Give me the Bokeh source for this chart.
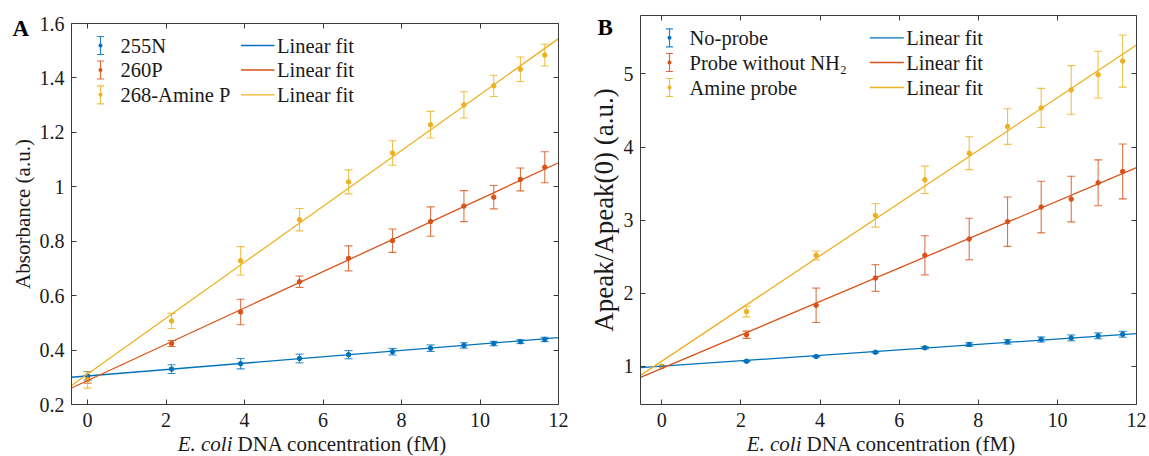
import numpy as np
from bokeh.plotting import figure
from bokeh.layouts import row
from bokeh.models import (Range1d, LinearAxis, FixedTicker, CustomJSTickFormatter, Label,
                          Whisker, TeeHead, BoxAnnotation, ColumnDataSource)
from bokeh.embed import file_html
from bokeh.resources import INLINE

# ---------------- data ----------------
conc = [0, 2.14, 3.9, 5.4, 6.65, 7.77, 8.74, 9.59, 10.35, 11.03, 11.65]

# Panel A : absorbance
abs_255N = [0.305, 0.330, 0.350, 0.369, 0.383, 0.394, 0.407, 0.417, 0.424, 0.431, 0.439]
err_255N = [0.016, 0.016, 0.019, 0.016, 0.015, 0.012, 0.012, 0.010, 0.008, 0.007, 0.008]
abs_260P = [0.292, 0.424, 0.540, 0.651, 0.737, 0.802, 0.872, 0.929, 0.962, 1.027, 1.072]
err_260P = [0.014, 0.011, 0.047, 0.021, 0.046, 0.043, 0.054, 0.057, 0.043, 0.042, 0.057]
abs_268 = [0.290, 0.507, 0.728, 0.879, 1.018, 1.124, 1.228, 1.301, 1.371, 1.432, 1.484]
err_268 = [0.030, 0.028, 0.052, 0.041, 0.044, 0.045, 0.049, 0.048, 0.039, 0.045, 0.040]
fit_slope_a = [0.0117, 0.0667, 0.1027]
fit_icpt_a = [0.305, 0.288, 0.312]
names_a = ["255N", "260P", "268-Amine P"]

# Panel B : Apeak / Apeak(0)
ratio_noprobe = [1.0, 1.072, 1.136, 1.195, 1.255, 1.300, 1.337, 1.369, 1.391, 1.419, 1.441]
err_noprobe = [0.0, 0.008, 0.006, 0.010, 0.015, 0.025, 0.030, 0.035, 0.040, 0.040, 0.040]
ratio_nonh2 = [1.0, 1.434, 1.837, 2.210, 2.520, 2.743, 2.980, 3.180, 3.289, 3.512, 3.667]
err_nonh2 = [0.0, 0.050, 0.235, 0.182, 0.268, 0.284, 0.337, 0.353, 0.312, 0.314, 0.375]
ratio_amine = [1.0, 1.751, 2.520, 3.066, 3.553, 3.917, 4.281, 4.536, 4.782, 4.991, 5.177]
err_amine = [0.0, 0.072, 0.060, 0.160, 0.187, 0.225, 0.243, 0.268, 0.332, 0.320, 0.357]
fit_slope_b = [0.0372, 0.2288, 0.3603]
fit_icpt_b = [1.004, 0.974, 1.073]
names_b = ["No-probe", "Probe without NH\u2082", "Amine probe"]
fit_label = "Linear fit"

x_ticks = [0, 2, 4, 6, 8, 10, 12]
y_ticks_a = [0.2, 0.4, 0.6, 0.8, 1, 1.2, 1.4, 1.6]
y_labels_a = ["0.2", "0.4", "0.6", "0.8", "1", "1.2", "1.4", "1.6"]
y_ticks_b = [1, 2, 3, 4, 5]
y_labels_b = ["1", "2", "3", "4", "5"]

# ---------------- styling ----------------
COLORS = ["#0072BD", "#D95319", "#EDB120"]
FONT = "Liberation Serif"
FRAME = "#3a3a3a"
TXT = "#1a1a1a"
H = 456


def make_panel(width, box, xlim, ylim):
    """box = (left, right, top, bottom) pixel edges of the axes box inside the figure."""
    left, right, top, bottom = box
    x_lo, x_hi = xlim
    y_lo, y_hi = ylim
    sx = (right - left) / (x_hi - x_lo)
    sy = (bottom - top) / (y_hi - y_lo)
    xr = Range1d(x_lo - left / sx, x_hi + (width - right) / sx)
    yr = Range1d(y_lo - (H - bottom) / sy, y_hi + top / sy)
    p = figure(width=width, height=H, output_backend="svg", toolbar_location=None,
               x_range=xr, y_range=yr, min_border=0, min_border_left=0,
               min_border_right=0, min_border_top=0, min_border_bottom=0)
    p.xgrid.visible = False
    p.ygrid.visible = False
    p.outline_line_color = None
    p.background_fill_color = "white"
    p.border_fill_color = "white"
    return p


def style_axes(p, xlim, ylim, xt, yt, ylabels, ylabel, label_size, label_standoff):
    x_lo, x_hi = xlim
    y_lo, y_hi = ylim
    xa = p.xaxis[0]
    ya = p.yaxis[0]
    xa.fixed_location = y_lo
    xa.bounds = (x_lo, x_hi)
    ya.fixed_location = x_lo
    ya.bounds = (y_lo, y_hi)
    xa.ticker = FixedTicker(ticks=xt)
    ya.ticker = FixedTicker(ticks=yt)
    ya.major_label_overrides = {float(t): s for t, s in zip(yt, ylabels)}
    for ax in (xa, ya):
        ax.major_tick_in = 5
        ax.major_tick_out = 0
        ax.minor_tick_line_color = None
        ax.axis_line_color = FRAME
        ax.major_tick_line_color = FRAME
        ax.major_label_text_font = FONT
        ax.major_label_text_font_size = "20px"
        ax.major_label_text_color = TXT
    xa.major_label_standoff = 8
    ya.major_label_standoff = 7
    ya.axis_label = ylabel
    ya.axis_label_text_font = FONT
    ya.axis_label_text_font_size = label_size
    ya.axis_label_text_font_style = "normal"
    ya.axis_label_text_color = TXT
    ya.axis_label_standoff = label_standoff
    # box axes (ticks only)
    for side, ticks, loc, bnds in (("right", yt, x_hi, (y_lo, y_hi)),
                                   ("above", xt, y_hi, (x_lo, x_hi))):
        ax = LinearAxis(ticker=FixedTicker(ticks=ticks), fixed_location=loc, bounds=bnds,
                        formatter=CustomJSTickFormatter(code="return ''"),
                        major_tick_in=5, major_tick_out=0,
                        minor_tick_line_color=None,
                        major_label_text_color=None, major_label_standoff=0,
                        axis_line_color=FRAME, major_tick_line_color=FRAME)
        p.add_layout(ax, side)


def draw_series(p, x, ys, errs, slopes, icpts, xlim):
    for y, e, c in zip(ys, errs, COLORS):
        y = np.asarray(y, float)
        e = np.asarray(e, float)
        src = ColumnDataSource(dict(x=x, y=y, lo=y - e, hi=y + e))
        p.segment(x0="x", y0="lo", x1="x", y1="hi", source=src,
                  line_color=c, line_width=1.1, line_alpha=0.8)
        p.scatter(x="x", y="lo", source=src, marker="dash", size=8,
                  line_color=c, line_width=1.1, line_alpha=0.8)
        p.scatter(x="x", y="hi", source=src, marker="dash", size=8,
                  line_color=c, line_width=1.1, line_alpha=0.8)
        p.scatter(x="x", y="y", source=src, marker="circle", size=4.5,
                  fill_color=c, line_color=c)
    for m, b, c in zip(slopes, icpts, COLORS):
        xl = np.array(xlim, float)
        p.line(xl, b + m * xl, line_color=c, line_width=1.3)


def add_legend(p, names, icon_x, text_x, line_x0, line_x1, fit_text_x, rows_cy):
    for name, c, cy in zip(names, COLORS, rows_cy):
        yy = H - cy
        src = ColumnDataSource(dict(base=[icon_x], lower=[yy - 9], upper=[yy + 9]))
        p.add_layout(Whisker(source=src, base="base", lower="lower", upper="upper",
                             dimension="height", base_units="screen",
                             lower_units="screen", upper_units="screen",
                             line_color=c, line_width=1.2, line_alpha=0.85,
                             lower_head=TeeHead(size=7, line_color=c, line_width=1.2, line_alpha=0.85),
                             upper_head=TeeHead(size=7, line_color=c, line_width=1.2, line_alpha=0.85)))
        p.add_layout(BoxAnnotation(left=icon_x - 2, right=icon_x + 2, bottom=yy - 2, top=yy + 2,
                                   left_units="screen", right_units="screen",
                                   bottom_units="screen", top_units="screen",
                                   fill_color=c, fill_alpha=1.0, line_color=None,
                                   border_radius=2))
        p.add_layout(Label(x=text_x, y=yy, x_units="screen", y_units="screen", text=name,
                           text_font=FONT, text_font_size="20.5px", text_color=TXT,
                           text_baseline="middle", text_align="left"))
        src2 = ColumnDataSource(dict(base=[yy], lower=[line_x0], upper=[line_x1]))
        p.add_layout(Whisker(source=src2, base="base", lower="lower", upper="upper",
                             dimension="width", base_units="screen",
                             lower_units="screen", upper_units="screen",
                             line_color=c, line_width=1.3,
                             lower_head=None, upper_head=None))
        p.add_layout(Label(x=fit_text_x, y=yy, x_units="screen", y_units="screen",
                           text=fit_label, text_font=FONT, text_font_size="20.5px",
                           text_color=TXT, text_baseline="middle", text_align="left"))


def add_xlabel(p, xc):
    p.add_layout(Label(x=xc, y=H - 443, x_units="screen", y_units="screen", text="E. coli",
                       text_font=FONT, text_font_size="21px", text_font_style="italic",
                       text_color=TXT, text_align="right", text_baseline="middle"))
    p.add_layout(Label(x=xc + 5, y=H - 443, x_units="screen", y_units="screen",
                       text="DNA concentration (fM)",
                       text_font=FONT, text_font_size="21px", text_color=TXT,
                       text_align="left", text_baseline="middle"))


def add_letter(p, txt, x, mid):
    p.add_layout(Label(x=x, y=H - mid, x_units="screen", y_units="screen", text=txt,
                       text_font=FONT, text_font_size="23px", text_font_style="bold",
                       text_color="black", text_baseline="middle"))


# ---------------- panel A ----------------
xlim_a = (-0.41, 12)
ylim_a = (0.2, 1.6)
box_a = (71, 558, 23, 404)
pa = make_panel(586, box_a, xlim_a, ylim_a)
draw_series(pa, conc, [abs_255N, abs_260P, abs_268], [err_255N, err_260P, err_268],
            fit_slope_a, fit_icpt_a, xlim_a)
style_axes(pa, xlim_a, ylim_a, x_ticks, y_ticks_a, y_labels_a, "Absorbance (a.u.)", "21px", 2)
add_legend(pa, names_a, 100, 120, 240.5, 274, 276.5, [45, 69.5, 94.3])
add_xlabel(pa, box_a[0] + 161)
add_letter(pa, "A", 12, 28)

# ---------------- panel B ----------------
xlim_b = (-0.54, 12)
ylim_b = (0.48, 5.8)
box_b = (54, 550, 15, 404)
pb = make_panel(563, box_b, xlim_b, ylim_b)
draw_series(pb, conc, [ratio_noprobe, ratio_nonh2, ratio_amine],
            [err_noprobe, err_nonh2, err_amine], fit_slope_b, fit_icpt_b, xlim_b)
style_axes(pb, xlim_b, ylim_b, x_ticks, y_ticks_b, y_labels_b, "Apeak/Apeak(0) (a.u.)", "27px", 2)
add_legend(pb, names_b, 83, 103, 283.3, 317.3, 319.7, [37.3, 62, 87])
add_xlabel(pb, box_b[0] + 161)
add_letter(pb, "B", 11, 27)

layout = row(pa, pb)
open("out.html", "w").write(file_html(layout, INLINE))
